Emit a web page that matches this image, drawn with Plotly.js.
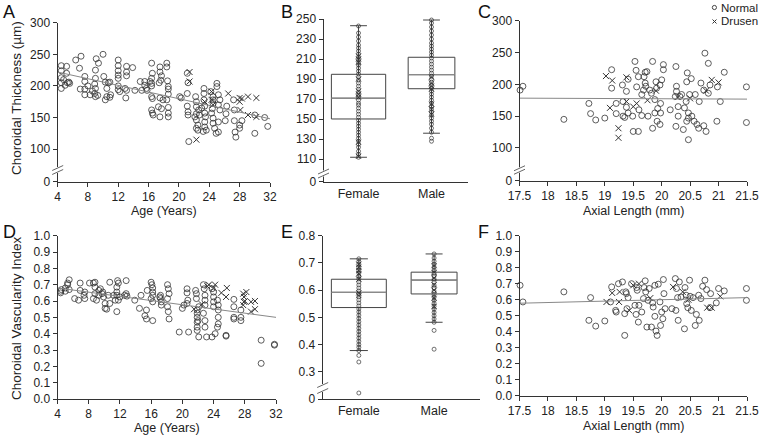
<!DOCTYPE html>
<html>
<head>
<meta charset="utf-8">
<script src="https://cdn.plot.ly/plotly-3.0.1.min.js"></script>
<style>html,body{margin:0;padding:0;background:#fff;}#chart{width:760px;height:436px;}</style>
</head>
<body>
<div id="chart"></div>
<script>
// ---------------- DATA ----------------
// Panel A: Age vs Choroidal Thickness
const ageA_normal = [4.5,4.5,4.5,4.5,4.5,5.0,5.2,5.2,5.3,5.5,5.6,4.8,6.4,7.1,6.9,7.6,7.0,7.6,7.6,7.6,8.3,8.0,
  9.1,9.4,9.0,9.0,8.9,9.0,8.9,9.0,9.3,8.6,10.0,10.1,10.3,10.5,10.7,10.5,10.3,10.9,11.0,10.9,
  12.0,12.0,12.0,12.0,12.0,12.0,12.2,12.0,13.1,13.1,13.1,12.9,13.1,13.0,13.9,14.2,14.9,15.1,15.5,15.5,15.7,15.8,
  16.4,16.5,16.4,16.4,16.4,16.4,16.5,16.4,16.5,16.6,16.2,17.5,17.5,17.6,17.7,17.5,17.7,17.5,17.3,17.9,17.4,18.4,18.4,18.5,18.6,18.6,18.6,18.4,18.6,18.6,18.6,
  20.1,20.3,21.1,21.2,21.1,21.1,21.2,21.2,21.3,22.2,22.3,22.3,22.3,22.1,22.3,22.5,22.3,22.5,22.6,22.7,23.3,23.3,23.3,23.4,23.4,23.5,23.4,23.4,23.6,23.2,23.0,
  24.2,24.5,24.5,24.5,24.4,24.3,24.5,24.5,24.7,24.9,25.0,25.2,25.4,25.2,25.4,25.2,25.2,25.0,26.3,26.2,26.1,27.2,27.3,27.3,27.4,27.5,28.0,28.0,28.3,30.0,30.0,31.3,31.7];
const ctA_normal = [232,224,213,205,196,201,231,220,205,206,204,210,241,247,228,215,195,195,207,186,186,200,
  243,236,225,212,203,196,188,183,185,192,250,215,206,196,205,183,178,182,186,206,
  241,232,224,217,212,194,191,200,231,222,216,196,193,181,229,193,207,193,207,201,196,193,
  236,220,212,204,200,183,180,162,157,154,207,230,222,209,216,181,164,151,167,178,205,236,230,208,199,195,187,178,166,157,151,
  183,181,220,205,188,168,159,154,112,183,175,167,156,151,146,138,133,130,162,154,196,188,178,168,157,151,143,135,130,128,165,
  191,183,178,172,164,157,149,141,133,125,204,186,178,170,162,143,127,199,168,156,145,178,162,145,127,119,138,133,145,154,125,150,136];
const ageA_drusen = [21.4,21.4,22.3,23.4,24.3,24.3,24.5,26.5,28.0,28.0,28.1,28.3,29.1,29.1,30.2,30.2];
const ctA_drusen  = [222,207,115,175,191,178,170,188,181,175,162,180,183,154,181,151];
const trendA_x = [4, 32];
const trendA_y = [222, 148];

// Panel B / E: sex box plots
const sexPos = [0, 1];
const sexLabels = ['Female', 'Male'];
const ctQ1 = [150.2, 180.4], ctMed = [170.9, 194.4], ctQ3 = [194.8, 211.8], ctLo = [112, 136], ctHi = [243.3, 249];
const ctFemale_normal = [112,115,118,122,125,128,131,134,137,140,143,146,149,152,155,158,161,164,166,169,172,174,177,180,183,186,189,192,195,198,201,204,206,209,212,215,218,221,224,228,232,236,243];
const ctFemale_drusen = [113,127,172,175,178,190,207,210,213];
const ctMale_normal = [128,131,137,141,145,148,151,154,157,160,163,166,169,172,175,178,181,184,187,190,193,196,199,202,205,208,211,214,217,220,223,226,230,234,238,242,246,249];
const ctMale_drusen = [155,160,165,180,183,186,192];
const cviQ1 = [0.536, 0.586], cviMed = [0.592, 0.637], cviQ3 = [0.640, 0.666], cviLo = [0.378, 0.482], cviHi = [0.715, 0.733];
const cviFemale_normal = [0.222,0.336,0.36,0.378,0.39,0.40,0.412,0.424,0.436,0.448,0.46,0.472,0.484,0.496,0.508,0.52,0.531,0.542,0.553,0.564,0.575,0.586,0.597,0.608,0.619,0.63,0.641,0.652,0.663,0.674,0.685,0.696,0.705,0.715];
const cviFemale_drusen = [0.58,0.59,0.64,0.66,0.672,0.684,0.695];
const cviMale_normal = [0.383,0.452,0.482,0.494,0.506,0.518,0.53,0.541,0.552,0.563,0.574,0.585,0.596,0.607,0.618,0.629,0.64,0.651,0.662,0.673,0.684,0.695,0.706,0.718,0.733];
const cviMale_drusen = [0.54,0.57,0.60,0.62,0.645,0.665,0.69];

// Panel C: Axial length vs Choroidal Thickness
const alC_normal = [17.51,17.56,18.28,18.72,18.75,18.84,19.0,19.12,19.12,19.2,19.2,19.31,19.32,19.32,19.35,19.38,19.41,19.38,19.41,19.49,19.5,19.59,19.53,19.55,19.56,19.59,19.6,19.65,19.65,19.68,19.69,19.71,19.74,19.71,19.72,19.76,19.79,19.82,19.84,19.84,19.88,19.88,19.9,19.91,19.92,19.93,19.97,20.0,19.98,19.98,20.03,20.03,19.97,20.15,20.24,20.25,20.26,20.26,20.25,20.29,20.29,20.32,20.35,20.38,20.4,20.43,20.44,20.44,20.45,20.47,20.47,20.49,20.47,20.52,20.53,20.57,20.59,20.62,20.66,20.65,20.69,20.74,20.74,20.76,20.82,20.82,20.78,20.85,20.97,20.98,21.03,21.1,21.49,21.49];
const ctC_normal = [191,197,145,170,154,144,147,223,194,170,154,199,173,150,148,189,208,164,155,150,126,126,236,222,196,212,160,151,184,191,212,219,220,202,197,150,191,186,236,131,176,155,204,194,142,162,199,207,170,155,231,223,137,160,181,228,197,189,134,165,150,181,184,129,163,173,142,204,218,147,155,184,113,209,150,142,184,137,173,131,202,135,191,249,186,233,126,199,142,196,173,219,196,140];
const alC_drusen = [19.02,19.09,19.13,19.24,19.24,19.38,19.38,19.5,19.56,19.75,19.9,20.28,20.5,20.78,20.88,21.0];
const ctC_drusen = [213,163,206,131,116,211,173,165,170,175,190,180,178,190,207,203];
const trendC_x = [17.5, 21.5];
const trendC_y = [178.3, 176.8];

// Panel D: Age vs CVI
const ageD_normal = [4.4,4.4,4.5,5.0,5.0,5.3,5.3,5.5,5.5,6.2,6.7,6.9,6.9,7.4,7.5,7.5,8.1,
  8.6,8.8,8.8,8.8,8.6,9.0,9.3,9.3,9.5,9.7,9.8,9.9,10.1,10.1,10.3,10.5,10.7,
  10.7,11.2,11.4,11.6,11.7,11.8,11.6,11.6,11.6,11.8,12.0,12.6,12.8,12.8,12.9,
  13.9,14.7,14.5,15.2,15.4,15.4,15.5,16.0,16.1,16.2,16.2,16.2,16.2,16.2,16.0,17.2,17.2,17.3,17.3,17.1,
  18.1,18.2,18.3,18.1,18.1,18.2,18.3,19.6,20.0,20.2,20.6,20.6,20.7,20.6,20.8,
  21.7,21.8,21.9,21.9,21.9,21.9,21.9,21.9,22.1,21.8,22.0,22.1,22.7,22.8,22.9,22.9,22.9,22.7,22.9,22.9,23.1,
  23.8,24.0,24.0,24.0,24.0,23.8,24.2,24.5,24.6,24.6,24.6,24.6,24.5,25.6,25.6,26.6,26.6,26.6,26.6,27.5,27.5,27.5,30.1,30.1,31.8,31.8];
const cviD_normal = [0.66,0.65,0.67,0.68,0.66,0.71,0.70,0.73,0.67,0.615,0.605,0.71,0.665,0.635,0.655,0.615,0.71,
  0.71,0.715,0.685,0.645,0.615,0.605,0.665,0.635,0.675,0.645,0.655,0.625,0.585,0.555,0.55,0.635,0.585,
  0.715,0.635,0.605,0.685,0.725,0.71,0.655,0.635,0.535,0.605,0.625,0.635,0.725,0.645,0.63,
  0.605,0.635,0.555,0.51,0.49,0.545,0.665,0.715,0.70,0.68,0.655,0.635,0.595,0.48,0.615,0.635,0.615,0.595,0.575,0.625,
  0.70,0.675,0.645,0.615,0.565,0.535,0.49,0.41,0.555,0.575,0.675,0.65,0.605,0.585,0.41,
  0.665,0.645,0.545,0.525,0.50,0.47,0.44,0.42,0.38,0.615,0.48,0.565,0.70,0.675,0.635,0.605,0.575,0.525,0.48,0.44,0.38,
  0.675,0.655,0.625,0.595,0.565,0.38,0.40,0.605,0.575,0.545,0.50,0.46,0.44,0.39,0.385,0.61,0.565,0.50,0.49,0.545,0.50,0.48,0.36,0.218,0.335,0.33];
const ageD_drusen = [21.5,22.5,23.2,23.4,24.0,24.2,25.0,25.6,25.7,27.8,27.9,27.9,27.8,28.2,28.0,28.8,28.8,29.3,29.3];
const cviD_drusen = [0.55,0.58,0.69,0.70,0.68,0.70,0.65,0.625,0.68,0.645,0.625,0.595,0.575,0.655,0.60,0.595,0.535,0.60,0.55];
const trendD_x = [4, 32];
const trendD_y = [0.68, 0.50];

// Panel F: Axial length vs CVI
const alF_normal = [17.51,17.56,18.28,18.72,18.75,18.84,19.0,19.1,19.12,19.19,19.2,19.24,19.31,19.35,19.35,19.37,19.38,19.39,19.41,19.47,19.53,19.55,19.56,19.57,19.59,19.6,19.65,19.68,19.69,19.71,19.72,19.74,19.76,19.78,19.82,19.84,19.85,19.88,19.88,19.9,19.92,19.94,19.97,19.98,20.0,20.02,20.03,20.04,20.06,20.18,20.24,20.25,20.26,20.28,20.29,20.31,20.34,20.4,20.41,20.43,20.44,20.46,20.49,20.5,20.52,20.55,20.59,20.61,20.65,20.66,20.69,20.72,20.76,20.79,20.85,20.86,20.96,21.0,21.1,21.49,21.49];
const cviF_normal = [0.69,0.586,0.649,0.471,0.613,0.435,0.467,0.586,0.68,0.533,0.523,0.70,0.711,0.513,0.377,0.649,0.638,0.544,0.613,0.70,0.565,0.508,0.676,0.659,0.46,0.565,0.523,0.607,0.676,0.718,0.649,0.429,0.596,0.67,0.429,0.58,0.554,0.69,0.496,0.404,0.377,0.697,0.586,0.439,0.523,0.481,0.726,0.638,0.544,0.544,0.732,0.533,0.67,0.613,0.471,0.711,0.617,0.418,0.676,0.628,0.575,0.55,0.722,0.621,0.533,0.613,0.439,0.508,0.628,0.471,0.607,0.684,0.722,0.663,0.55,0.638,0.58,0.67,0.655,0.67,0.596];
const alF_drusen = [19.03,19.13,19.25,19.26,19.43,19.5,19.6,19.8,20.2,20.37,20.47,20.8,20.88,21.03];
const cviF_drusen = [0.586,0.642,0.586,0.649,0.533,0.69,0.70,0.61,0.68,0.649,0.60,0.55,0.55,0.621];
const trendF_x = [17.5, 21.5];
const trendF_y = [0.578, 0.613];

// Axis tick labels
const ageTicks = [4,8,12,16,20,24,28,32];
const alTicks = [17.5,18,18.5,19,19.5,20,20.5,21,21.5];
const ctTicksA = [48.5,100,150,200,250,300], ctTickText = ['0','100','150','200','250','300'];
const ctTicksC = [48.6,100,150,200,250,300];
const ctTicksB = [87.8,110,130,150,170,190,210,230,250], ctTickTextB = ['0','110','130','150','170','190','210','230','250'];
const cviTicks = [0,0.1,0.2,0.3,0.4,0.5,0.6,0.7,0.8,0.9,1.0];
const cviTicksE = [0.2,0.3,0.4,0.5,0.6,0.7,0.8], cviTickTextE = ['0','0.3','0.4','0.5','0.6','0.7','0.8'];

// ---------------- LAYOUT ----------------
const W = 760, H = 436;
const FONT = 'Liberation Sans, Arial, sans-serif';
const INK = '#333';
const px = v => v / W, py = v => 1 - v / H;
const dom = (a, b) => [a / W, b / W];
const domY = (top, bot) => [1 - bot / H, 1 - top / H];

function axis(domain, anchor, extra) {
  return Object.assign({
    domain: domain, anchor: anchor, showline: true, linecolor: INK, linewidth: 1,
    ticks: 'outside', ticklen: 4, tickwidth: 1, tickcolor: INK, showgrid: false, zeroline: false,
    tickfont: {family: FONT, size: 12, color: '#222'}, fixedrange: true
  }, extra);
}

const layout = {
  width: W, height: H, margin: {l: 0, r: 0, t: 0, b: 0}, paper_bgcolor: '#fff', plot_bgcolor: 'rgba(0,0,0,0)',
  showlegend: false, font: {family: FONT, color: '#222'},
  xaxis:  axis(dom(57.5, 270), 'y',  {range: [4, 32], tickvals: ageTicks}),
  yaxis:  axis(domY(22.7, 181.7), 'x', {range: [48.5, 300], tickvals: ctTicksA, ticktext: ctTickText}),
  xaxis2: axis(dom(323.5, 468), 'y2', {range: [-0.48, 1.5], tickvals: sexPos, ticktext: sexLabels, ticks: '', tickfont: {family: FONT, size: 12.5, color: '#222'}}),
  yaxis2: axis(domY(19, 181.5), 'x2', {range: [87.8, 250], tickvals: ctTicksB, ticktext: ctTickTextB}),
  xaxis3: axis(dom(519.5, 747), 'y3', {range: [17.5, 21.5], tickvals: alTicks}),
  yaxis3: axis(domY(20.7, 180.7), 'x3', {range: [48.6, 300], tickvals: ctTicksC, ticktext: ctTickText}),
  xaxis4: axis(dom(57.5, 276), 'y4', {range: [4, 32], tickvals: ageTicks}),
  yaxis4: axis(domY(235.7, 399), 'x4', {range: [0, 1], tickvals: cviTicks, tickformat: '.1f'}),
  xaxis5: axis(dom(322.7, 480), 'y5', {range: [-0.48, 1.61], tickvals: sexPos, ticktext: sexLabels, ticks: '', tickfont: {family: FONT, size: 12.5, color: '#222'}}),
  yaxis5: axis(domY(235.7, 399), 'x5', {range: [0.2, 0.8], tickvals: cviTicksE, ticktext: cviTickTextE}),
  xaxis6: axis(dom(519.5, 747), 'y6', {range: [17.5, 21.5], tickvals: alTicks}),
  yaxis6: axis(domY(235.7, 395.7), 'x6', {range: [0, 1], tickvals: cviTicks, tickformat: '.1f'}),
  annotations: [],
  shapes: []
};

function note(text, x, y, opts) {
  layout.annotations.push(Object.assign({
    text: text, x: px(x), y: py(y), xref: 'paper', yref: 'paper', showarrow: false,
    xanchor: 'center', yanchor: 'middle', font: {family: FONT, size: 12.5, color: '#222'}
  }, opts || {}));
}
// axis titles
note('Choroidal Thickness (µm)', 16, 98, {textangle: -90, font: {family: FONT, size: 13.5, color: '#222'}});
note('Choroidal Vascularity Index', 16, 318, {textangle: -90, font: {family: FONT, size: 13.5, color: '#222'}});
note('Age (Years)', 164, 211);
note('Age (Years)', 167, 428);
note('Axial Length (mm)', 633, 211);
note('Axial Length (mm)', 633, 426);
// panel letters
[['A', 1, 0], ['B', 279, 0], ['C', 476, 0], ['D', 1, 220], ['E', 279, 220], ['F', 476, 220]].forEach(p =>
  note(p[0], p[1], p[2], {xanchor: 'left', yanchor: 'top', font: {family: FONT, size: 18, color: '#111'}}));
// legend
note('Normal', 718.5, 7.5, {xanchor: 'left', font: {family: FONT, size: 11.5, color: '#222'}});
note('Drusen', 718.5, 21.5, {xanchor: 'left', font: {family: FONT, size: 11.5, color: '#222'}});
function pline(x0, y0, x1, y1, color, w) {
  layout.shapes.push({type: 'line', xref: 'paper', yref: 'paper', x0: px(x0), y0: py(y0), x1: px(x1), y1: py(y1),
    line: {color: color, width: w}});
}
layout.shapes.push({type: 'circle', xref: 'paper', yref: 'paper', x0: px(712.3), x1: px(716.5), y0: py(9.6), y1: py(5.4),
  line: {color: INK, width: 0.9}});
pline(712.5, 19.5, 716.5, 23.5, INK, 1);
pline(712.5, 23.5, 716.5, 19.5, INK, 1);
// axis breaks
function brk(cx, cy, g) {
  pline(cx, cy - g / 2 - 1, cx, cy + g / 2 + 1, '#fff', 3);
  pline(cx - 5.5, cy - g / 2 + 2.5, cx + 5.5, cy - g / 2 - 2.5, '#666', 1);
  pline(cx - 5.5, cy + g / 2 + 2.5, cx + 5.5, cy + g / 2 - 2.5, '#666', 1);
}
brk(57.7, 170, 4);
brk(323.5, 173.5, 4);
brk(519.5, 170, 3.5);
brk(322.7, 388, 6);

// ---------------- TRACES ----------------
const circ = (size, w) => ({symbol: 'circle-open', size: size, color: INK, line: {color: INK, width: w || 0.8}});
const cross = (size) => ({symbol: 'x-thin-open', size: size, color: INK, line: {color: INK, width: 1}});
const traces = [];
function scatterPanel(xa, ya, xn, yn, xd, yd, tx, ty) {
  traces.push({type: 'scatter', mode: 'markers', x: xn, y: yn, xaxis: xa, yaxis: ya, marker: circ(6), cliponaxis: false, hoverinfo: 'skip'});
  traces.push({type: 'scatter', mode: 'markers', x: xd, y: yd, xaxis: xa, yaxis: ya, marker: cross(6), cliponaxis: false, hoverinfo: 'skip'});
  traces.push({type: 'scatter', mode: 'lines', x: tx, y: ty, xaxis: xa, yaxis: ya, line: {color: '#888', width: 1}, hoverinfo: 'skip'});
}
scatterPanel('x', 'y', ageA_normal, ctA_normal, ageA_drusen, ctA_drusen, trendA_x, trendA_y);
scatterPanel('x3', 'y3', alC_normal, ctC_normal, alC_drusen, ctC_drusen, trendC_x, trendC_y);
scatterPanel('x4', 'y4', ageD_normal, cviD_normal, ageD_drusen, cviD_drusen, trendD_x, trendD_y);
scatterPanel('x6', 'y6', alF_normal, cviF_normal, alF_drusen, cviF_drusen, trendF_x, trendF_y);

function boxPanel(xa, ya, q1, med, q3, lo, hi, widths, wws, groups) {
  for (let i = 0; i < 2; i++) {
    traces.push({type: 'box', x: [sexPos[i]], q1: [q1[i]], median: [med[i]], q3: [q3[i]], lowerfence: [lo[i]], upperfence: [hi[i]],
      width: widths[i], whiskerwidth: wws[i], xaxis: xa, yaxis: ya, boxpoints: false,
      line: {color: '#444', width: 1}, fillcolor: 'rgba(0,0,0,0)', hoverinfo: 'skip'});
    traces.push({type: 'scatter', mode: 'lines', x: [sexPos[i] - widths[i] / 2, sexPos[i] + widths[i] / 2], y: [med[i], med[i]],
      xaxis: xa, yaxis: ya, line: {color: '#8a8a8a', width: 1.3}, hoverinfo: 'skip'});
    traces.push({type: 'scatter', mode: 'markers', x: groups[i][0].map(() => sexPos[i]), y: groups[i][0], xaxis: xa, yaxis: ya,
      marker: circ(4, 0.7), cliponaxis: false, hoverinfo: 'skip'});
    traces.push({type: 'scatter', mode: 'markers', x: groups[i][1].map(() => sexPos[i]), y: groups[i][1], xaxis: xa, yaxis: ya,
      marker: cross(5), cliponaxis: false, hoverinfo: 'skip'});
  }
}
boxPanel('x2', 'y2', ctQ1, ctMed, ctQ3, ctLo, ctHi, [0.744, 0.64], [0.31, 0.36],
  [[ctFemale_normal, ctFemale_drusen], [ctMale_normal, ctMale_drusen]]);
boxPanel('x5', 'y5', cviQ1, cviMed, cviQ3, cviLo, cviHi, [0.73, 0.61], [0.33, 0.37],
  [[cviFemale_normal, cviFemale_drusen], [cviMale_normal, cviMale_drusen]]);

Plotly.newPlot('chart', traces, layout, {displayModeBar: false, staticPlot: true});
</script>
</body>
</html>
